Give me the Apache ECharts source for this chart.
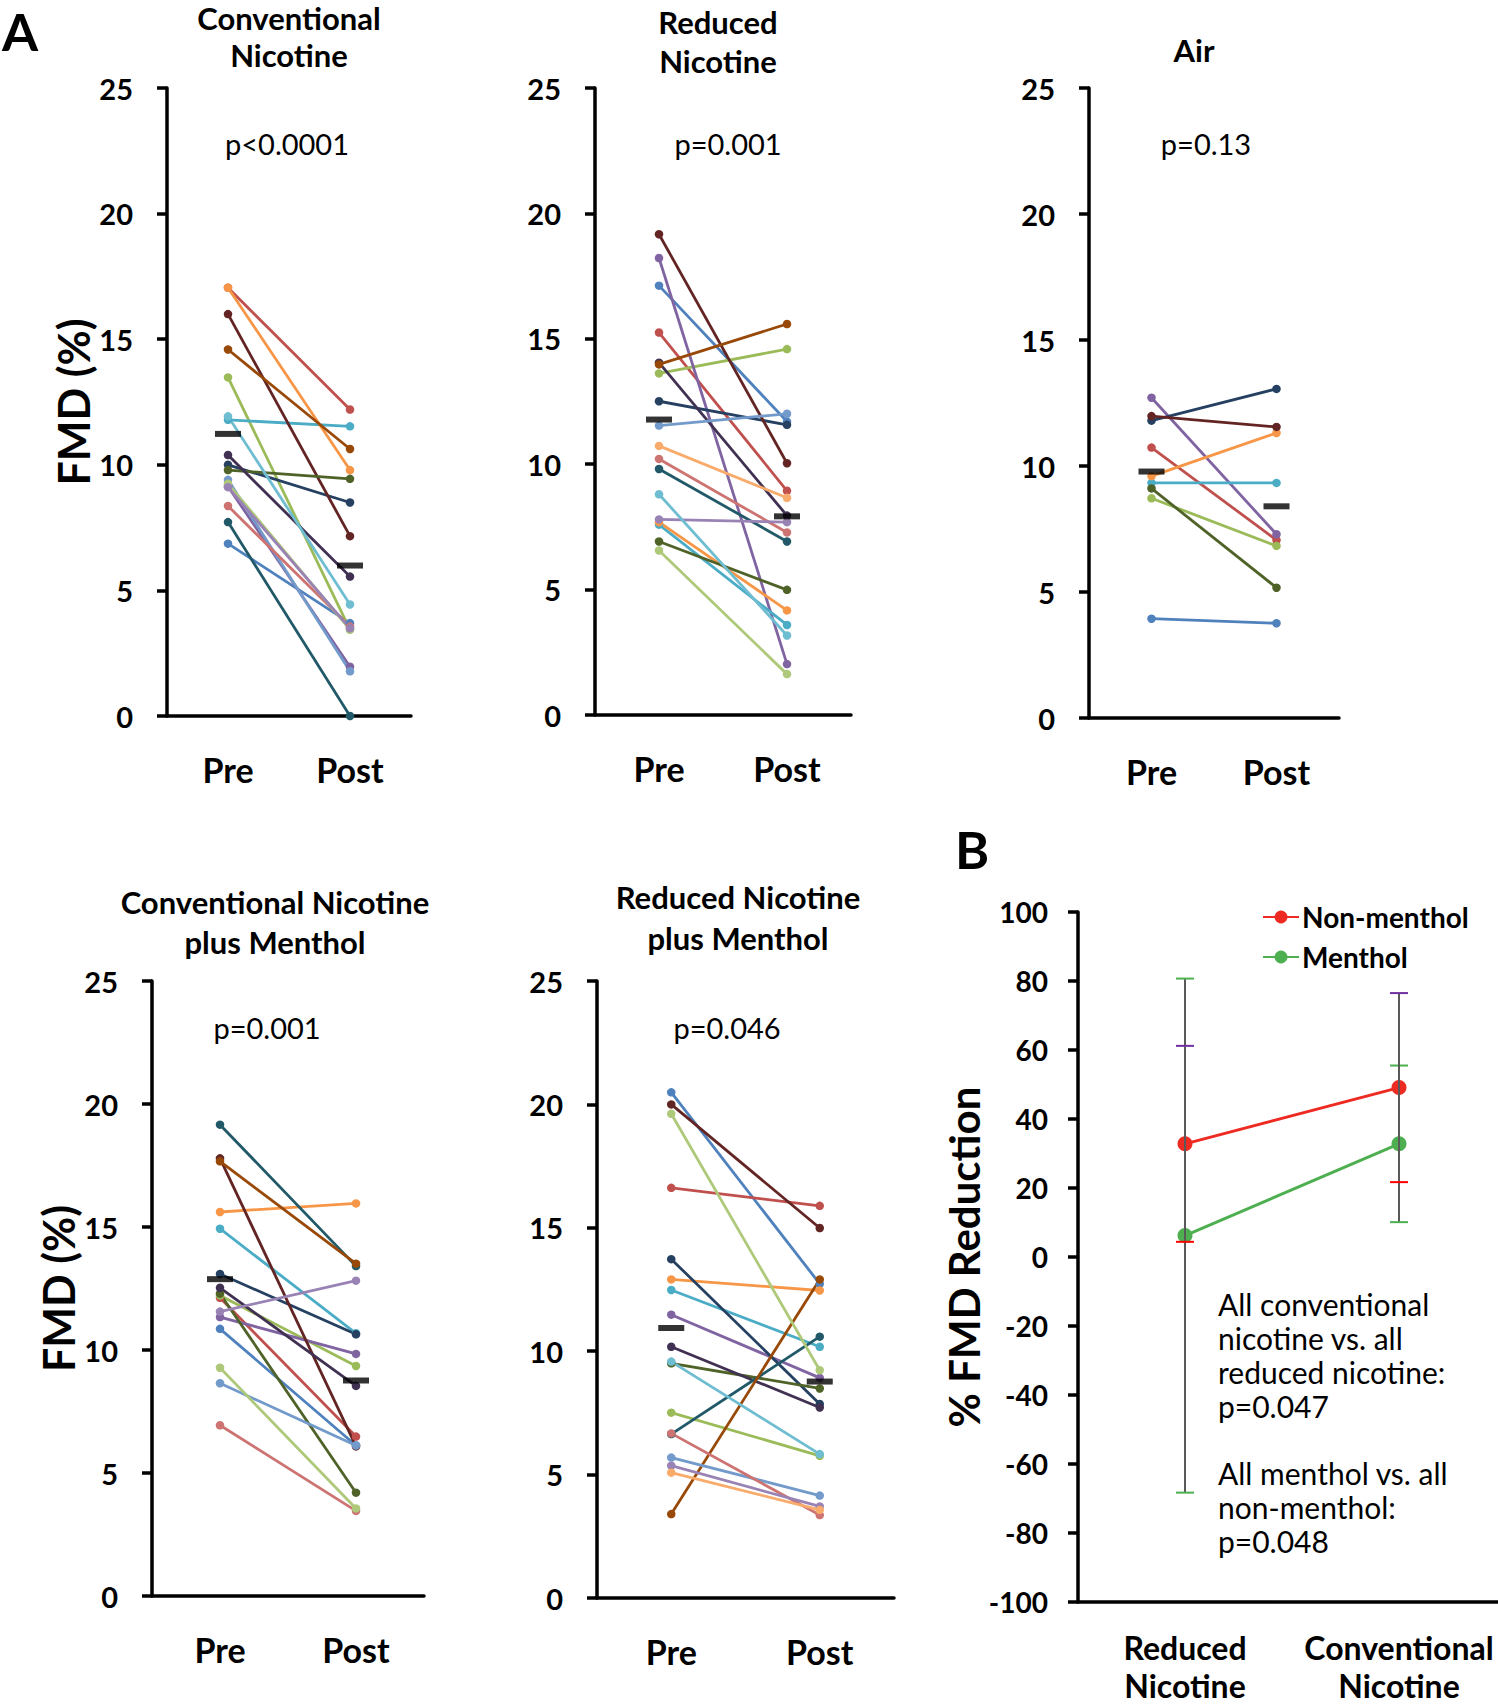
<!DOCTYPE html>
<html><head><meta charset="utf-8">
<script src="https://cdn.jsdelivr.net/npm/echarts@6/dist/echarts.min.js"></script>
<style>html,body{margin:0;padding:0;background:#fff}#c{width:1498px;height:1706px}</style>
</head><body><div id="c"></div>
<script>
// ---------- data ----------
const categoriesA = ['Pre', 'Post'];
const yTicksA = [0, 5, 10, 15, 20, 25];
const yTicksB = [-100, -80, -60, -40, -20, 0, 20, 40, 60, 80, 100];
const categoriesB = ['Reduced\nNicotine', 'Conventional\nNicotine'];

// subjects listed in colour-slot order (null = slot not used in that panel)
const convPre  = [6.86, 17.05, 13.48, 9.14, 11.79, 17.05, 10.00, 16.00, 9.79, 10.39, 7.72, 14.59, 9.40, 8.36, 9.25, 9.11, 11.93, null];
const convPost = [3.70, 12.20, 3.44, 1.96, 11.53, 9.79, 8.50, 7.16, 9.44, 5.55, 0.00, 10.63, 1.78, 3.56, 3.44, 3.49, 4.44, null];
const convMean = [11.23, 5.99];

const redPre  = [17.12, 15.25, 13.62, 18.22, 7.59, 7.69, 12.51, 19.17, 6.92, 14.05, 9.81, 13.98, 11.54, 10.21, 6.56, 7.80, 8.80, 10.73];
const redPost = [11.70, 8.94, 14.59, 2.03, 3.59, 4.17, 11.57, 10.04, 4.99, 7.95, 6.92, 15.59, 12.01, 7.28, 1.63, 7.69, 3.17, 8.66];
const redMean = [11.78, 7.92];

const airPre  = [3.94, 10.73, 8.72, 12.71, 9.33, 9.60, 11.80, 11.98, 9.11];
const airPost = [3.76, 7.06, 6.83, 7.29, 9.33, 11.31, 13.06, 11.55, 5.17];
const airMean = [9.78, 8.40];

const convMentPre  = [10.86, 12.12, 12.22, 11.34, 14.93, 15.61, 13.09, 17.79, 12.29, 12.53, 19.16, 17.67, 8.65, 6.94, 9.28, 11.56];
const convMentPost = [6.12, 6.48, 9.35, 9.84, 10.68, 15.96, 10.64, 6.08, 4.20, 8.54, 13.41, 13.51, 6.12, 3.46, 3.56, 12.82];
const convMentMean = [12.88, 8.76];

const redMentPre  = [20.49, 16.62, 7.51, 11.48, 12.48, 12.91, 13.73, 20.00, 9.51, 10.18, 6.64, 3.40, 5.69, 6.67, 19.62, 5.36, 9.58, 5.08];
const redMentPost = [12.73, 15.89, 5.76, 8.92, 10.18, 12.46, 7.86, 14.99, 8.49, 7.72, 10.59, 12.91, 4.15, 3.36, 9.23, 3.71, 5.83, 3.57];
const redMentMean = [10.94, 8.77];

const nonMentholMean = [32.8, 49.1];
const nonMentholErr  = [28.4, 27.4];
const mentholMean = [6.2, 32.8];
const mentholErr  = [74.5, 22.7];

// ---------- styles ----------
const palette = ['#4F81BD','#C0504D','#9BBB59','#8064A2','#4BACC6','#F79646',
                 '#254061','#632523','#4F6228','#403152','#215968','#984807',
                 '#729ACA','#CD7371','#AFC97A','#9983B5','#6FBDD1','#F9AB6B'];
const FONT = 'Lato, "Open Sans", sans-serif';

const panels = [
  {pre: convPre, post: convPost, mean: convMean, grid: {left: 167, top: 88, width: 244, height: 628}, yName: 'FMD (%)'},
  {pre: redPre, post: redPost, mean: redMean, grid: {left: 595, top: 88, width: 256, height: 627}},
  {pre: airPre, post: airPost, mean: airMean, grid: {left: 1089, top: 88, width: 250, height: 630}},
  {pre: convMentPre, post: convMentPost, mean: convMentMean, grid: {left: 152, top: 981, width: 272, height: 615}, yName: 'FMD (%)'},
  {pre: redMentPre, post: redMentPost, mean: redMentMean, grid: {left: 597, top: 981, width: 297, height: 617}}
];

const grids = [], xAxes = [], yAxes = [], series = [];
const axisLineStyle = {color: '#000', width: 3.5};

panels.forEach((p, gi) => {
  grids.push(Object.assign({outerBoundsMode: 'none', containLabel: false}, p.grid));
  xAxes.push({
    type: 'category', gridIndex: gi, data: categoriesA, boundaryGap: true,
    axisLine: {show: true, onZero: false, lineStyle: axisLineStyle},
    axisTick: {show: false},
    axisLabel: {interval: 0, margin: 36, fontFamily: FONT, fontWeight: 'bold', fontSize: 34, color: '#000'}
  });
  yAxes.push({
    type: 'value', gridIndex: gi, min: yTicksA[0], max: yTicksA[yTicksA.length - 1], interval: yTicksA[1] - yTicksA[0],
    splitLine: {show: false},
    axisLine: {show: true, lineStyle: axisLineStyle},
    axisTick: {show: true, length: 10, lineStyle: {color: '#000', width: 3.5}},
    axisLabel: {margin: 34, fontFamily: FONT, fontWeight: 'bold', fontSize: 29, color: '#000'},
    name: p.yName || '', nameLocation: 'middle', nameGap: 72, nameRotate: 90,
    nameTextStyle: {fontFamily: FONT, fontWeight: 'bold', fontSize: 43, color: '#000'}
  });
  p.pre.forEach((v, i) => {
    if (v == null) return;
    series.push({
      type: 'line', xAxisIndex: gi, yAxisIndex: gi, data: [v, p.post[i]],
      symbol: 'circle', symbolSize: 8.5, showSymbol: true,
      lineStyle: {width: 2.8, color: palette[i]}, itemStyle: {color: palette[i]},
      silent: true, z: 2
    });
  });
  series.push({
    type: 'scatter', xAxisIndex: gi, yAxisIndex: gi, data: p.mean,
    symbol: 'rect', symbolSize: [26, 6], itemStyle: {color: '#000'}, z: 6, silent: true
  });
});

// ---------- panel B ----------
const bi = panels.length;
grids.push({left: 1078, top: 912, width: 428, height: 690, outerBoundsMode: 'none', containLabel: false});
xAxes.push({
  type: 'category', gridIndex: bi, data: categoriesB, boundaryGap: true,
  axisLine: {show: true, onZero: false, lineStyle: axisLineStyle},
  axisTick: {show: false},
  axisLabel: {interval: 0, hideOverlap: false, margin: 26, fontFamily: FONT, fontWeight: 'bold', fontSize: 32, lineHeight: 38, color: '#000'}
});
yAxes.push({
  type: 'value', gridIndex: bi, min: yTicksB[0], max: yTicksB[yTicksB.length - 1], interval: yTicksB[1] - yTicksB[0],
  splitLine: {show: false},
  axisLine: {show: true, onZero: false, lineStyle: axisLineStyle},
  axisTick: {show: true, length: 10, lineStyle: {color: '#000', width: 3.5}},
  axisLabel: {margin: 30, fontFamily: FONT, fontWeight: 'bold', fontSize: 28, color: '#000'},
  name: '% FMD Reduction', nameLocation: 'middle', nameGap: 93, nameRotate: 90,
  nameTextStyle: {fontFamily: FONT, fontWeight: 'bold', fontSize: 42, color: '#000'}
});

const RED = '#EE2B22', GREEN = '#4DAF4F';
function errSeries(means, errs, capTop, capBot) {
  return {
    type: 'custom', xAxisIndex: bi, yAxisIndex: bi, z: 4, silent: true,
    data: means.map((m, i) => [i, m, errs[i]]),
    renderItem: (params, api) => {
      const x = api.value(0), m = api.value(1), e = api.value(2);
      const t = api.coord([x, m + e]), b = api.coord([x, m - e]);
      const hw = 9;
      return {type: 'group', children: [
        {type: 'line', shape: {x1: t[0], y1: t[1], x2: b[0], y2: b[1]}, style: {stroke: '#595959', lineWidth: 2}},
        {type: 'line', shape: {x1: t[0] - hw, y1: t[1], x2: t[0] + hw, y2: t[1]}, style: {stroke: capTop, lineWidth: 2}},
        {type: 'line', shape: {x1: b[0] - hw, y1: b[1], x2: b[0] + hw, y2: b[1]}, style: {stroke: capBot, lineWidth: 2}}
      ]};
    }
  };
}
series.push({
  name: 'Non-menthol', type: 'line', xAxisIndex: bi, yAxisIndex: bi, data: nonMentholMean,
  symbol: 'circle', symbolSize: 15, lineStyle: {width: 3, color: RED}, itemStyle: {color: RED}, z: 3
});
series.push({
  name: 'Menthol', type: 'line', xAxisIndex: bi, yAxisIndex: bi, data: mentholMean,
  symbol: 'circle', symbolSize: 15, lineStyle: {width: 3, color: GREEN}, itemStyle: {color: GREEN}, z: 3
});
series.push(errSeries(mentholMean, mentholErr, GREEN, GREEN));
series.push(errSeries(nonMentholMean, nonMentholErr, '#7030A0', '#FF0000'));

// ---------- texts ----------
function T(x, y, text, font, align, vAlign, lh) {
  align = align || 'center';
  vAlign = vAlign || 'middle';
  const st = {text: text, font: font, fill: '#000', align: align, verticalAlign: vAlign,
              textAlign: align, textVerticalAlign: vAlign};
  if (lh) st.lineHeight = lh;
  return {type: 'text', x: x, y: y, z: 10, silent: true, style: st};
}
const TB = 'bold 31px ' + FONT, PF = '29px ' + FONT, AF = '30px ' + FONT;
const graphic = [
  T(20, 31, 'A', 'bold 52px ' + FONT),
  T(972, 849, 'B', 'bold 52px ' + FONT),
  T(289, 18, 'Conventional', TB), T(289, 55, 'Nicotine', TB),
  T(718, 22, 'Reduced', TB), T(718, 61, 'Nicotine', TB),
  T(1194, 50, 'Air', TB),
  T(287, 143, 'p<0.0001', PF), T(728, 143, 'p=0.001', PF), T(1206, 143, 'p=0.13', PF),
  T(275, 902, 'Conventional Nicotine', TB), T(275, 942, 'plus Menthol', TB),
  T(738, 897, 'Reduced Nicotine', TB), T(738, 938, 'plus Menthol', TB),
  T(267, 1027, 'p=0.001', PF), T(727, 1027, 'p=0.046', PF),
  T(1218, 1287, 'All conventional\nnicotine vs. all\nreduced nicotine:\np=0.047', AF, 'left', 'top', 34),
  T(1218, 1456, 'All menthol vs. all\nnon-menthol:\np=0.048', AF, 'left', 'top', 34)
];

const chart = echarts.init(document.getElementById('c'), null, {renderer: 'svg', width: 1498, height: 1706});
chart.setOption({
  animation: false,
  backgroundColor: '#fff',
  textStyle: {fontFamily: FONT},
  grid: grids, xAxis: xAxes, yAxis: yAxes, series: series, graphic: graphic,
  legend: {
    data: ['Non-menthol', 'Menthol'], orient: 'vertical', left: 1262, top: 903,
    itemWidth: 36, itemHeight: 16, itemGap: 12, padding: 0,
    textStyle: {fontFamily: FONT, fontWeight: 'bold', fontSize: 28, color: '#000', padding: [0, 0, 0, -2]}
  }
});
</script>
</body></html>
